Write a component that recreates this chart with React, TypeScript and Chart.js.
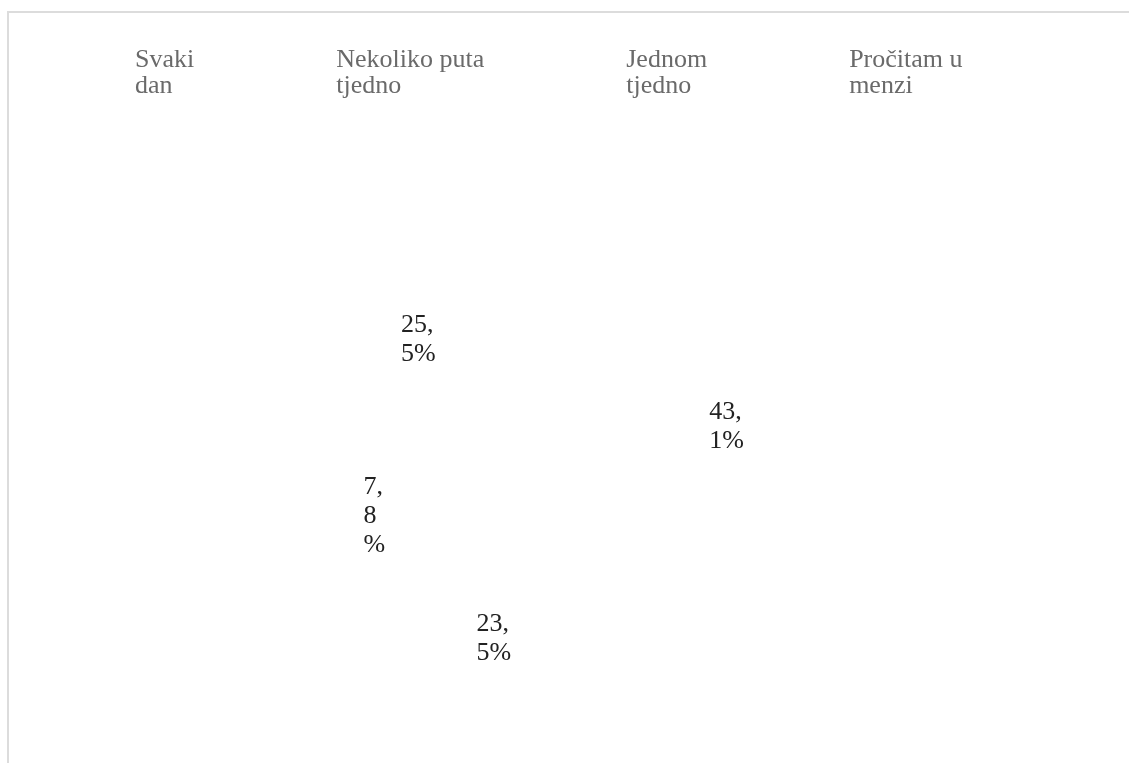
import React, { useEffect, useRef } from "react";
import { Chart, registerables } from "chart.js";

Chart.register(...registerables);

const categories: string[] = ["Svaki dan", "Nekoliko puta tjedno", "Jednom tjedno", "Pročitam u menzi"];
const legendLines: string[][] = [
  ["Svaki", "dan"],
  ["Nekoliko puta", "tjedno"],
  ["Jednom", "tjedno"],
  ["Pročitam u", "menzi"],
];
const shares: number[] = [43.1, 23.5, 7.8, 25.5];

const FONT = "'Liberation Serif', 'Times New Roman', serif";

function formatShare(v: number): string {
  return v.toFixed(1).replace(".", ",") + "%";
}

function wrapLabel(ctx: CanvasRenderingContext2D, text: string, maxWidth: number): string[] {
  const segs: string[] = [];
  let cur = "";
  for (const ch of text) {
    cur += ch;
    if (ch === ",") {
      segs.push(cur);
      cur = "";
    }
  }
  if (cur) segs.push(cur);
  const lines: string[] = [];
  let line = "";
  for (const seg of segs) {
    const trial = line + seg;
    if (ctx.measureText(trial).width <= maxWidth) {
      line = trial;
      continue;
    }
    if (line) lines.push(line);
    line = "";
    if (ctx.measureText(seg).width <= maxWidth) {
      line = seg;
    } else {
      for (const ch of seg) {
        const t = line + ch;
        if (line && ctx.measureText(t).width > maxWidth) {
          lines.push(line);
          line = ch;
        } else {
          line = t;
        }
      }
    }
  }
  if (line) lines.push(line);
  return lines;
}

const overlayPlugin = {
  id: "overlay",
  afterDraw(chart: any) {
    const ctx: CanvasRenderingContext2D = chart.ctx;
    ctx.save();
    // legend
    ctx.font = `26px ${FONT}`;
    ctx.fillStyle = "#6a6a6a";
    ctx.textAlign = "left";
    ctx.textBaseline = "alphabetic";
    const gap = 142;
    let x = 126;
    legendLines.forEach((lines) => {
      let w = 0;
      lines.forEach((l, i) => {
        ctx.fillText(l, x, 54 + i * 26);
        w = Math.max(w, ctx.measureText(l).width);
      });
      x += w + gap;
    });
    // data labels
    const meta = chart.getDatasetMeta(0);
    ctx.font = `26px ${FONT}`;
    ctx.fillStyle = "#222222";
    ctx.textBaseline = "middle";
    meta.data.forEach((arc: any, i: number) => {
      const p = arc.getProps(["x", "y", "startAngle", "endAngle", "outerRadius"], true);
      const mid = (p.startAngle + p.endAngle) / 2;
      const r = p.outerRadius * 0.633;
      const cx = p.x + Math.cos(mid) * r;
      const cy = p.y + Math.sin(mid) * r;
      const maxW = Math.min(40, (p.endAngle - p.startAngle) * 45);
      const lines = wrapLabel(ctx, formatShare(shares[i]), maxW);
      const bw = Math.max(...lines.map((l) => ctx.measureText(l).width));
      const lh = 29;
      lines.forEach((l, k) => {
        ctx.fillText(l, cx - bw / 2, cy + (k - (lines.length - 1) / 2) * lh);
      });
    });
    ctx.restore();
  },
};

export default function App() {
  const ref = useRef<HTMLCanvasElement | null>(null);
  useEffect(() => {
    if (!ref.current) return;
    const chart = new Chart(ref.current, {
      type: "pie",
      data: {
        labels: categories,
        datasets: [
          {
            data: shares,
            backgroundColor: "#ffffff",
            borderColor: "#ffffff",
            borderWidth: 0,
          },
        ],
      },
      options: {
        animation: false,
        responsive: true,
        maintainAspectRatio: false,
        layout: { padding: { top: 166, bottom: 10, left: 20, right: 60 } },
        plugins: {
          legend: { display: false },
          tooltip: { enabled: false },
        },
      },
      plugins: [overlayPlugin],
    });
    return () => chart.destroy();
  }, []);
  return (
    <div
      style={{
        position: "absolute",
        left: 7,
        top: 11,
        width: 1122,
        height: 752,
        boxSizing: "border-box",
        borderTop: "2px solid #dcdcdc",
        borderLeft: "2px solid #dcdcdc",
        background: "#ffffff",
      }}
    >
      <div style={{ position: "relative", width: 1120, height: 750 }}>
        <canvas ref={ref} />
      </div>
    </div>
  );
}
